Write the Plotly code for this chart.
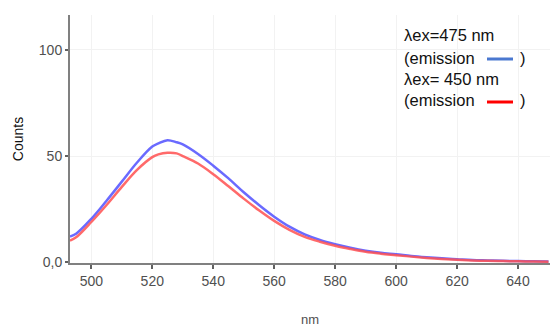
import plotly.graph_objects as go

wavelength = [493, 495, 500, 505, 510, 515, 520, 522, 525, 528, 530, 535, 540, 545, 550,
              555, 560, 565, 570, 575, 580, 585, 590, 595, 600, 605, 610, 615, 620,
              625, 630, 635, 640, 645, 650]
counts_475 = [12.2, 13.5, 20.5, 29.0, 38.0, 47.0, 54.5, 56.0, 57.5, 56.5, 55.5, 51.0, 45.5,
              39.5, 33.0, 27.0, 21.5, 16.8, 13.2, 10.6, 8.6, 6.9, 5.5, 4.5, 3.8, 3.0, 2.4,
              1.9, 1.5, 1.1, 0.9, 0.7, 0.6, 0.5, 0.4]
counts_450 = [10.2, 11.8, 19.0, 27.0, 35.5, 43.5, 49.5, 50.8, 51.6, 51.3, 50.0, 46.5, 41.5,
              35.8, 30.0, 24.5, 19.5, 15.3, 12.0, 9.7, 7.8, 6.3, 5.0, 4.1, 3.4, 2.7, 2.1,
              1.6, 1.2, 0.9, 0.7, 0.6, 0.5, 0.4, 0.3]
x_ticks = [500, 520, 540, 560, 580, 600, 620, 640]
y_ticks = [0, 50, 100]
y_tick_text = ["0,0", "50", "100"]
legend_lines = ["λex=475 nm", "(emission", "λex= 450 nm", "(emission"]

tick_font = dict(family="Liberation Sans Narrow, Arial Narrow, Liberation Sans, sans-serif",
                 size=14, color="#505050")

fig = go.Figure()
fig.add_trace(go.Scatter(x=wavelength, y=counts_475, mode="lines",
                         line=dict(color="rgba(80,80,255,0.85)", width=2.5, shape="spline"),
                         showlegend=False))
fig.add_trace(go.Scatter(x=wavelength, y=counts_450, mode="lines",
                         line=dict(color="rgba(255,80,80,0.85)", width=2.5, shape="spline"),
                         showlegend=False))

L, T, W, H = 70, 15, 480, 248


def px(x):
    return (x - L) / W


def py(y):
    return (T + H - y) / H


ys = [35, 58, 79, 100]
for txt, yy in zip(legend_lines, ys):
    fig.add_annotation(text=txt, xref="paper", yref="paper", x=px(402), y=py(yy),
                       xanchor="left", yanchor="middle", showarrow=False,
                       font=dict(family="Liberation Sans, Arial, sans-serif", size=16.5, color="#111111"))
for yy in [58, 100]:
    fig.add_annotation(text=")", xref="paper", yref="paper", x=px(518), y=py(yy),
                       xanchor="left", yanchor="middle", showarrow=False,
                       font=dict(family="Liberation Sans, Arial, sans-serif", size=16.5, color="#111111"))
fig.add_shape(type="line", xref="paper", yref="paper", x0=px(487), x1=px(513),
              y0=py(59), y1=py(59), line=dict(color="#4a78d0", width=3))
fig.add_shape(type="line", xref="paper", yref="paper", x0=px(487), x1=px(513),
              y0=py(102), y1=py(102), line=dict(color="#ff0000", width=3))

fig.update_layout(
    width=550, height=327,
    margin=dict(l=L, r=0, t=T, b=327 - T - H),
    paper_bgcolor="white", plot_bgcolor="white",
    xaxis=dict(range=[493, 650.5], tickvals=x_ticks, showgrid=True, gridcolor="#f2f2f2",
               gridwidth=1, zeroline=False, showline=True, linecolor="#808080", linewidth=2,
               ticks="outside", ticklen=4, tickcolor="#606060", tickwidth=2,
               tickfont=tick_font,
               title=dict(text="nm", font=dict(family=tick_font["family"], size=13, color="#505050"),
                          standoff=27)),
    yaxis=dict(range=[-0.3, 116.4], tickvals=y_ticks, ticktext=y_tick_text, showgrid=True,
               gridcolor="#f2f2f2", gridwidth=1, zeroline=False, showline=True,
               linecolor="#808080", linewidth=2, ticks="outside", ticklen=3,
               tickcolor="#606060", tickwidth=2, tickfont=tick_font,
               title=dict(text="Counts", font=dict(family="Liberation Sans, Arial, sans-serif",
                                                   size=14, color="#111111"), standoff=12)),
)

fig.write_html("out.html")
